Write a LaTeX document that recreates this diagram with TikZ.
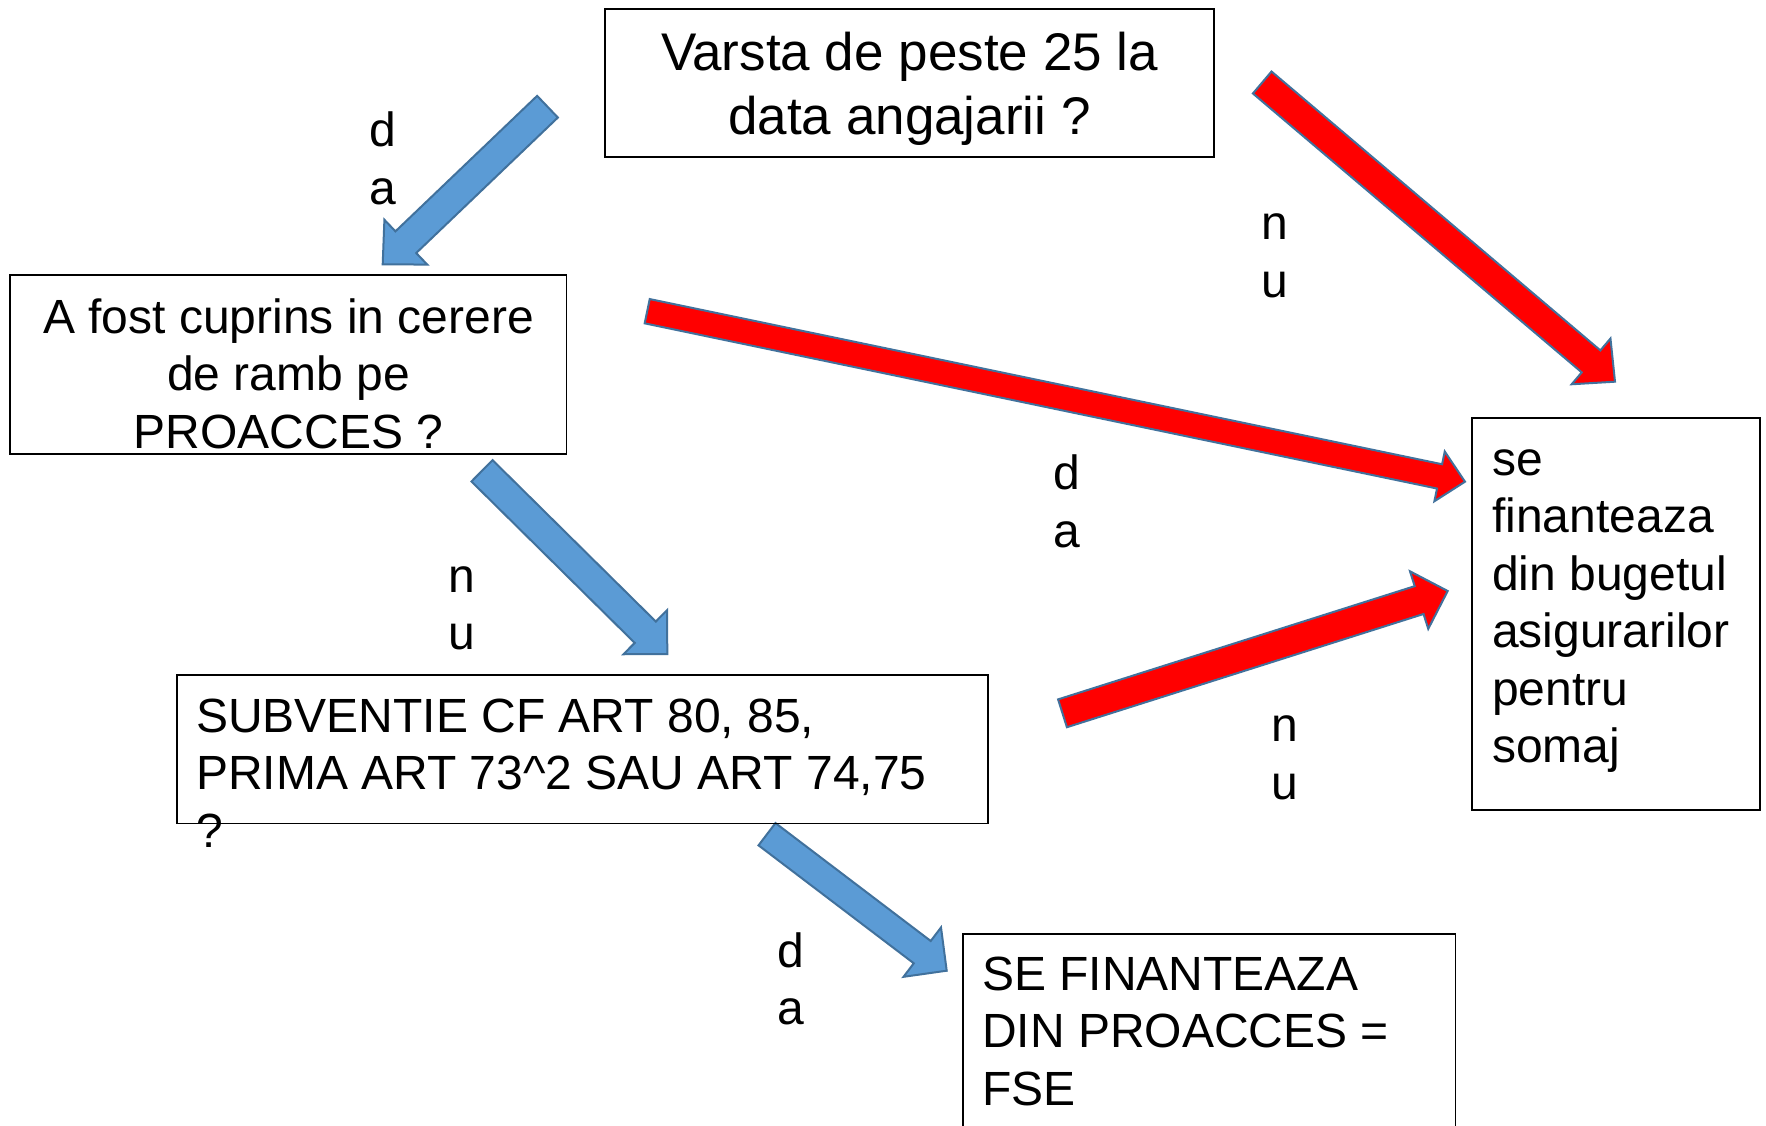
\documentclass[tikz,border=0pt]{standalone}
\usepackage{fontspec}
\setmainfont{Liberation Sans}
\usetikzlibrary{calc}
\definecolor{arrblue}{HTML}{5B9BD5}
\definecolor{arrline}{HTML}{41719C}
\definecolor{arrred}{HTML}{FF0000}
\newcommand\blockarrow[6]{% tail, tip, shaft half width, head half width, head length, style
  \coordinate (hb) at ($(#2)!#5!(#1)$);
  \draw[#6] ($(#1)!#3!90:(#2)$) -- ($(hb)!#3!90:(#2)$) -- ($(hb)!#4!90:(#2)$) -- (#2)
    -- ($(hb)!#4!-90:(#2)$) -- ($(hb)!#3!-90:(#2)$) -- ($(#1)!#3!-90:(#2)$) -- cycle;
}
\tikzset{
  box/.style={draw=black, line width=1.8pt, inner sep=0pt, outer sep=0pt, rectangle, anchor=north west},
  bigtxt/.style={inner sep=0pt, font=\fontsize{53}{64}\selectfont},
  txt/.style={inner sep=0pt, font=\fontsize{48}{57.5}\selectfont},
  bluearrow/.style={fill=arrblue, draw=arrline, line width=2pt, line join=miter},
  redarrow/.style={fill=arrred, draw=arrline, line width=2pt, line join=miter},
}
\begin{document}
\begin{tikzpicture}[x=1pt, y=-1pt]
\path[use as bounding box, fill=white] (0,0) rectangle (1766,1126);
\clip (0,0) rectangle (1766,1126);

% arrow end points
\coordinate (aAt) at (547.5,106.7);  \coordinate (aAh) at (382.7,264.3);
\coordinate (aBt) at (1262.2,82.5);  \coordinate (aBh) at (1615,381.7);
\coordinate (aCt) at (482,470.8);    \coordinate (aCh) at (667.3,654);
\coordinate (aDt) at (767,834.2);    \coordinate (aDh) at (946.7,970.7);
\coordinate (aEt) at (647.2,311.2);  \coordinate (aEh) at (1465,481.7);
\coordinate (aFt) at (1062.5,713.3); \coordinate (aFh) at (1447.7,591);

\blockarrow{aAt}{aAh}{15pt}{31pt}{32pt}{bluearrow}
\blockarrow{aBt}{aBh}{14.4pt}{30pt}{31.4pt}{redarrow}
\blockarrow{aCt}{aCh}{15pt}{31pt}{31pt}{bluearrow}
\blockarrow{aDt}{aDh}{14pt}{31pt}{30.7pt}{bluearrow}
\blockarrow{aEt}{aEh}{12.4pt}{25.4pt}{26pt}{redarrow}
\blockarrow{aFt}{aFh}{14.6pt}{30.2pt}{30pt}{redarrow}

% boxes
\node[box, minimum width=609pt, minimum height=148pt] (b1) at (605,9) {};
\node[box, minimum width=556.5pt, minimum height=179pt] (b2) at (10,275) {};
\node[box, minimum width=811pt, minimum height=148.5pt] (b3) at (177,675) {};
\node[box, minimum width=288pt, minimum height=392pt] (b4) at (1472,418) {};
\node[box, minimum width=492.5pt, minimum height=260pt] (b5) at (963,934) {};

% box texts
\node[bigtxt, anchor=base] (t1) at (909.5,71)
  {\begin{tabular}[t]{@{}c@{}}Varsta de peste 25 la\\data angajarii ?\end{tabular}};
\node[txt, anchor=base] (t2) at (288.5,333)
  {\begin{tabular}[t]{@{}c@{}}A fost cuprins in cerere\\de ramb pe\\PROACCES ?\end{tabular}};
\node[txt, anchor=base west] (t3) at (196,732)
  {\begin{tabular}[t]{@{}l@{}}SUBVENTIE CF ART 80, 85,\\PRIMA ART 73\textasciicircum 2 SAU ART 74,75\\?\end{tabular}};
\node[txt, anchor=base west] (t4) at (1492,475)
  {\begin{tabular}[t]{@{}l@{}}se\\finanteaza\\din bugetul\\asigurarilor\\pentru\\somaj\end{tabular}};
\node[txt, anchor=base west] (t5) at (982,990)
  {\begin{tabular}[t]{@{}l@{}}SE FINANTEAZA\\DIN PROACCES =\\FSE\end{tabular}};

% branch labels
\node[txt, anchor=base] (l1) at (382.5,147) {\begin{tabular}[t]{@{}c@{}}d\\a\end{tabular}};
\node[txt, anchor=base] (l2) at (1275,240) {\begin{tabular}[t]{@{}c@{}}n\\u\end{tabular}};
\node[txt, anchor=base] (l3) at (1066.5,489.5) {\begin{tabular}[t]{@{}c@{}}d\\a\end{tabular}};
\node[txt, anchor=base] (l4) at (462,592) {\begin{tabular}[t]{@{}c@{}}n\\u\end{tabular}};
\node[txt, anchor=base] (l5) at (1285,741.5) {\begin{tabular}[t]{@{}c@{}}n\\u\end{tabular}};
\node[txt, anchor=base] (l6) at (791,967) {\begin{tabular}[t]{@{}c@{}}d\\a\end{tabular}};
\end{tikzpicture}
\end{document}
